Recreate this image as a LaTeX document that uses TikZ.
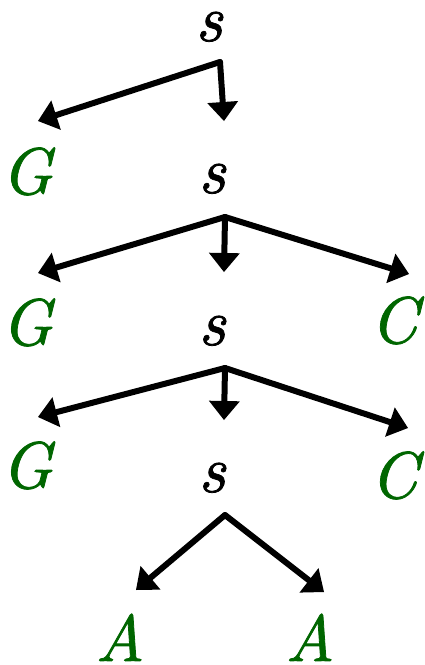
\documentclass[tikz,border=0pt]{standalone}
\usepackage{fontspec}
\usetikzlibrary{arrows.meta}
\definecolor{symgreen}{RGB}{0,102,0}
% serif italic for the grammar symbols, slightly emboldened
\newfontfamily\symfont{lmroman10-italic}[Extension=.otf,FakeBold=1.2]
\begin{document}
\begin{tikzpicture}[x=1pt,y=-1pt,
  sym/.style={anchor=base,inner sep=0pt,font=\fontsize{66}{66}\symfont},
  nonterm/.style={sym,text=black},
  term/.style={sym,text=symgreen},
  derive/.style={line width=6pt,line cap=round,
    -{Triangle[length=19pt,width=31pt,line width=0pt]}}]
\useasboundingbox (0,0) rectangle (425,665);

% symbols, row by row
\node[nonterm] (s1) at (209,41) {s};
\node[term] (g1) at (27,194) {G};
\node[nonterm] (s2) at (212,193) {s};
\node[term] (g2) at (27,345) {G};
\node[nonterm] (s3) at (212,345) {s};
\node[term] (c2) at (394,343) {C};
\node[term] (g3) at (27,488) {G};
\node[nonterm] (s4) at (212,492) {s};
\node[term] (c3) at (394,498) {C};
\node[term] (a1) at (120,661) {A};
\node[term] (a2) at (310,661) {A};

% branch points and arrow ends
\coordinate (j1) at (220,62);
\coordinate (j1g) at (38,121);
\coordinate (j1s) at (224,121);
\coordinate (j2) at (225,217);
\coordinate (j2g) at (38,273);
\coordinate (j2s) at (224,272);
\coordinate (j2c) at (409,274);
\coordinate (j3) at (225,368);
\coordinate (j3g) at (38,417);
\coordinate (j3s) at (224,420);
\coordinate (j3c) at (408,428);
\coordinate (j4) at (225,515);
\coordinate (j4a) at (136,590);
\coordinate (j4b) at (324,592);

% derivation steps
\draw[derive] (j1) -- (j1g);
\draw[derive] (j1) -- (j1s);
\draw[derive] (j2) -- (j2g);
\draw[derive] (j2) -- (j2s);
\draw[derive] (j2) -- (j2c);
\draw[derive] (j3) -- (j3g);
\draw[derive] (j3) -- (j3s);
\draw[derive] (j3) -- (j3c);
\draw[derive] (j4) -- (j4a);
\draw[derive] (j4) -- (j4b);
\end{tikzpicture}
\end{document}
